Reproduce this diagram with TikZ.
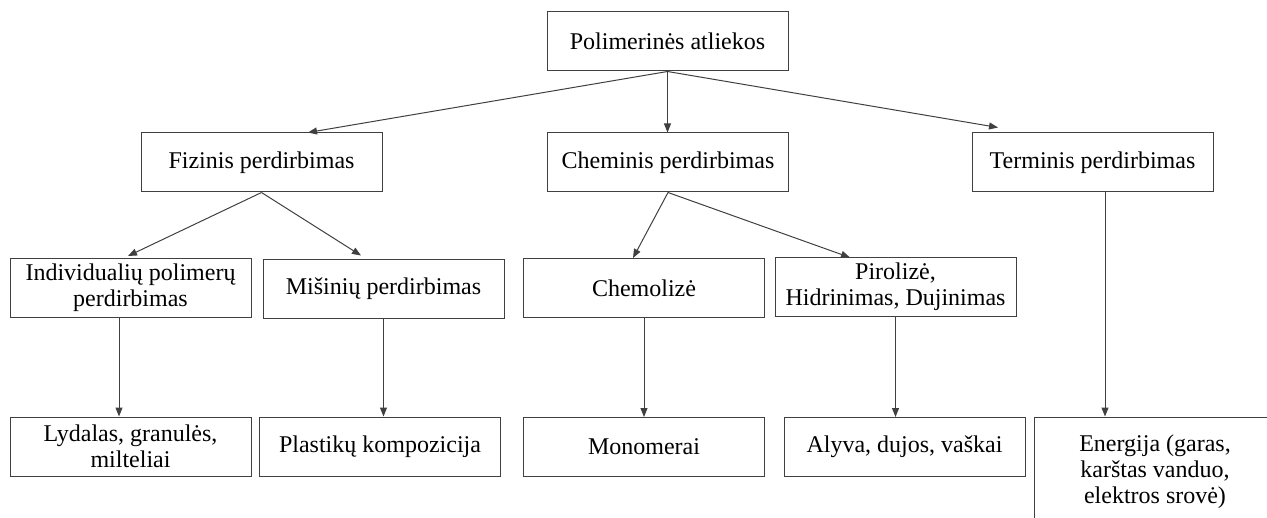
\documentclass[tikz,border=0pt]{standalone}
\usepackage{fontspec}
\IfFontExistsTF{LiberationSerif-Regular.ttf}
	{\setmainfont{LiberationSerif-Regular.ttf}}
	{\setmainfont{Liberation Serif}}
\usetikzlibrary{calc,arrows.meta}

\begin{document}
\begin{tikzpicture}[x=0.5pt,y=-0.5pt,>={Triangle[length=4.5pt,width=3.5pt]}]
	\tikzstyle{box}=[draw=black!75,line width=0.5pt,minimum width=120.5pt,minimum height=29.5pt,inner sep=2pt,align=center,font=\rmfamily\fontsize{12}{13}\selectfont]
	\tikzstyle{link}=[->,draw=black!75,line width=0.5pt]

	\useasboundingbox (0,0) rectangle (1267,518);
	\clip (0,0) rectangle (1267,518);

	\foreach \name/\x/\y/\txt in {top/667.5/41.5/{Polimerinės atliekos},
		fiz/261.5/162.5/{Fizinis perdirbimas}, chem/668/162.5/{Cheminis perdirbimas}, term/1092.5/162.5/{Terminis perdirbimas},
		indiv/130.5/288/{Individualių polimerų\\perdirbimas}, misin/383.5/288.5/{Mišinių perdirbimas},
		chemol/644/288/{Chemolizė}, piro/895.5/286.5/{Pirolizė,\\Hidrinimas, Dujinimas},
		lyd/130.5/446.5/{Lydalas, granulės,\\milteliai}, plast/380/446.5/{Plastikų kompozicija},
		mono/644/447/{Monomerai}, alyva/904.5/447/{Alyva, dujos, vaškai}}
	\node[box] (\name) at (\x,\y) {\txt};
	\node[box,minimum height=55pt] (energ) at (1155,472) {Energija (garas,\\karštas vanduo,\\elektros srovė)};

	% slanted links
	\draw[link] (top.south) -- ($(fiz.north)+(46.5,0)$);
	\draw[link] (top.south) -- (top.south |- chem.north);
	\draw[link] (top.south) -- ($(term.north)+(-94.5,-5)$);
	\draw[link] (fiz.south) -- ($(indiv.north)+(-2.5,-2)$);
	\draw[link] (fiz.south) -- ($(misin.north)+(-22.5,-3)$);
	\draw[link] (chem.south) -- ($(chemol.north)+(-11,0)$);
	\draw[link] (chem.south) -- ($(piro.north)+(-45.5,1)$);

	% straight down
	\coordinate (indout) at ($(indiv.south)+(-11.5,0)$);
	\coordinate (termout) at ($(term.south)+(12.5,0)$);
	\draw[link] (indout) -- (indout |- lyd.north);
	\foreach \from/\to in {misin/plast, chemol/mono, piro/alyva}
	\draw[link] (\from.south) -- (\from.south |- \to.north);
	\draw[link] (termout) -- (termout |- energ.north);
\end{tikzpicture}
\end{document}
